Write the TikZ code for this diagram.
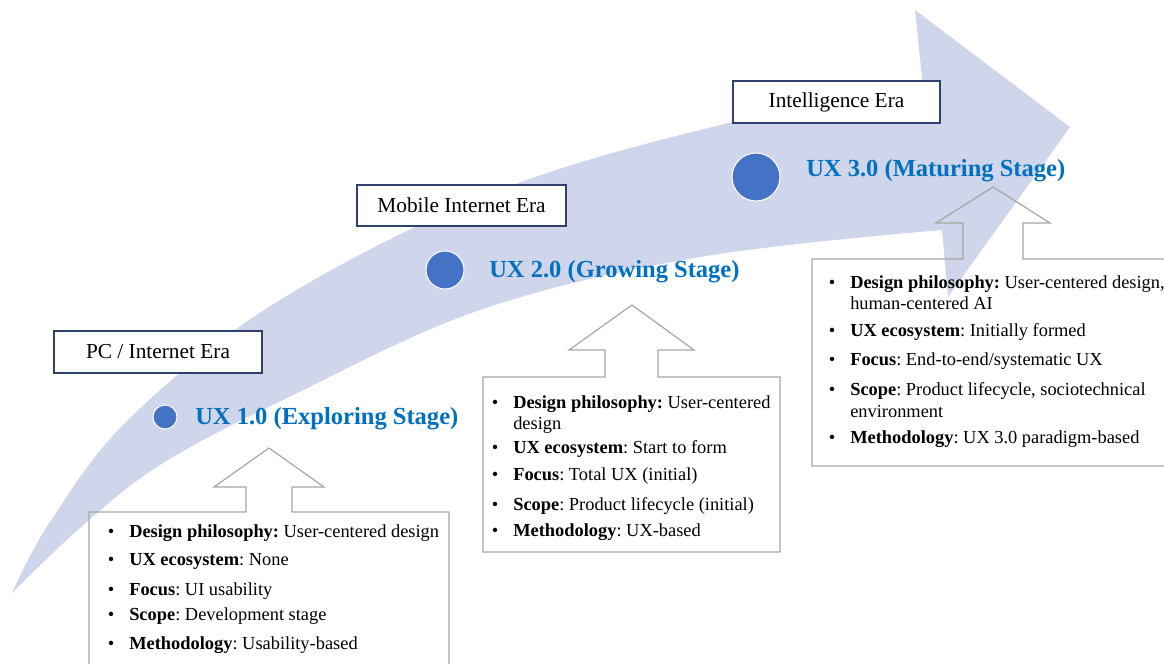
\documentclass[tikz,border=0pt]{standalone}
\usepackage{fontspec}
\setmainfont{Liberation Serif}
\frenchspacing
\definecolor{bandc}{HTML}{CFD5EA}
\definecolor{dotc}{HTML}{4472C4}
\definecolor{ttlc}{HTML}{0070C0}
\definecolor{erab}{HTML}{2F3F6E}
\definecolor{calg}{HTML}{A6A6A6}
\begin{document}
\begin{tikzpicture}[x=0.75pt,y=-0.75pt,
 erabox/.style={draw=erab, line width=0.9pt, fill=white, inner sep=0pt, font=\fontsize{16}{19}\selectfont},
 ttlstyle/.style={text=ttlc, font=\fontsize{18.4}{22}\selectfont\bfseries, inner sep=0pt, anchor=base west},
 btxt/.style={font=\fontsize{13.8}{15.75}\selectfont, inner sep=0pt, anchor=base west},
 bdot/.style={font=\fontsize{13.8}{15.75}\selectfont, inner sep=0pt, anchor=base},
 callout/.style={draw=calg, line width=0.9pt},
 stagedot/.style={circle, fill=dotc, draw=white, line width=0.8pt, inner sep=0pt}
]
\useasboundingbox (0,0) rectangle (1164,664);
% big curved arrow
\fill[bandc] plot[smooth, tension=0.6] coordinates {(12,593) (50,522) (130,418) (280,300) (500,190) (733,122) (923,87)}
  -- (915,10) -- (1070,127) -- (948,297) -- (942,230)
  -- plot[smooth, tension=0.6] coordinates {(942,230) (700,257) (480,310) (283,400) (160,465) (80,528) (12,593)} -- cycle;
% stage dots
\node[stagedot, minimum size=18pt] (c1) at (165,417) {};
\node[stagedot, minimum size=28.5pt] (c2) at (445,270) {};
\node[stagedot, minimum size=36pt] (c3) at (756,177) {};
% callouts
\draw[callout] (89,668) -- (89,512) -- (246,512) -- (246,487) -- (214,487) -- (269,448) -- (324,487) -- (292,487) -- (292,512) -- (449,512) -- (449,668);
\draw[callout] (483,552) -- (483,377) -- (605,377) -- (605,350) -- (569,350) -- (632,305) -- (694,350) -- (658,350) -- (658,377) -- (780,377) -- (780,552) -- cycle;
\draw[callout] (1168,466) -- (812,466) -- (812,259) -- (963,259) -- (963,223) -- (936,223) -- (993,187) -- (1050,223) -- (1023,223) -- (1023,259) -- (1168,259);
% era boxes
\node[erabox, minimum width=156pt, minimum height=31.5pt] (e1) at (158,352) {PC / Internet Era};
\node[erabox, minimum width=156.75pt, minimum height=30.75pt] (e2) at (461.5,205.5) {Mobile Internet Era};
\node[erabox, minimum width=155.25pt, minimum height=31.5pt] (e3) at (836.5,102) {Intelligence Era};
% titles
\node[ttlstyle] (t1) at (195,424) {UX 1.0 (Exploring Stage)};
\node[ttlstyle] (t2) at (489,277) {UX 2.0 (Growing Stage)};
\node[ttlstyle] (t3) at (806,176) {UX 3.0 (Maturing Stage)};
% box 1
\foreach \yy/\nm in {537/a,565/b,595/c,620/d,649/e} \node[bdot] (d1\nm) at (111,\yy) {•};
\node[btxt] (l1a) at (129,537) {\textbf{Design philosophy:} User-centered design};
\node[btxt] (l1b) at (129,565) {\textbf{UX ecosystem}: None};
\node[btxt] (l1c) at (129,595) {\textbf{Focus}: UI usability};
\node[btxt] (l1d) at (129,620) {\textbf{Scope}: Development stage};
\node[btxt] (l1e) at (129,649) {\textbf{Methodology}: Usability-based};
% box 2
\foreach \yy/\nm in {408/a,453/b,480/c,510/d,536/e} \node[bdot] (d2\nm) at (495,\yy) {•};
\node[btxt] (l2a) at (513,408) {\textbf{Design philosophy:} User-centered};
\node[btxt] (l2a2) at (513,429) {design};
\node[btxt] (l2b) at (513,453) {\textbf{UX ecosystem}: Start to form};
\node[btxt] (l2c) at (513,480) {\textbf{Focus}: Total UX (initial)};
\node[btxt] (l2d) at (513,510) {\textbf{Scope}: Product lifecycle (initial)};
\node[btxt] (l2e) at (513,536) {\textbf{Methodology}: UX-based};
% box 3
\foreach \yy/\nm in {288/a,336/b,365/c,395/d,443/e} \node[bdot] (d3\nm) at (832,\yy) {•};
\node[btxt] (l3a) at (850,288) {\textbf{Design philosophy:} User-centered design,};
\node[btxt] (l3a2) at (850,309) {human-centered AI};
\node[btxt] (l3b) at (850,336) {\textbf{UX ecosystem}: Initially formed};
\node[btxt] (l3c) at (850,365) {\textbf{Focus}: End-to-end/systematic UX};
\node[btxt] (l3d) at (850,395) {\textbf{Scope}: Product lifecycle, sociotechnical};
\node[btxt] (l3d2) at (850,417) {environment};
\node[btxt] (l3e) at (850,443) {\textbf{Methodology}: UX 3.0 paradigm-based};
\end{tikzpicture}
\end{document}
